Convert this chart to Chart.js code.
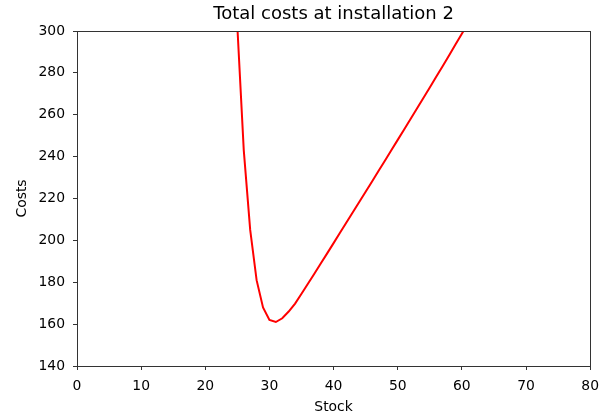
<!DOCTYPE html>
<html>
<head>
<meta charset="utf-8">
<script src="https://cdn.jsdelivr.net/npm/chart.js@4/dist/chart.umd.min.js"></script>
<style>
  html, body { margin: 0; padding: 0; background: #fff; }
  #wrap { width: 607px; height: 417px; }
</style>
</head>
<body>
<div id="wrap"><canvas id="c" width="607" height="417"></canvas></div>
<script>
// Stock levels and the total cost at each level
const stock = [24, 25, 26, 27, 28, 29, 30, 31, 32, 33, 34, 35, 36, 37, 38, 39, 40,
  41, 42, 43, 44, 45, 46, 47, 48, 49, 50, 51, 52, 53, 54, 55, 56, 57, 58, 59, 60, 61, 62];
const costs = [390, 302, 243, 205, 181, 168, 162, 161, 162.8, 166, 169.8, 174.5, 179.3,
  184.1, 189, 193.8, 198.7, 203.6, 208.5, 213.4, 218.3, 223.2, 228.1, 233.1, 238, 243,
  248, 253, 258, 263, 268, 273, 278.1, 283.2, 288.3, 293.5, 298.7, 303.9, 309.1];

const xTicks = [0, 10, 20, 30, 40, 50, 60, 70, 80];
const yTicks = [140, 160, 180, 200, 220, 240, 260, 280, 300];

const FONT = "'DejaVu Sans', sans-serif";
const AXIS = '#333';

// Box around the plotting area (all four spines)
const frame = {
  id: 'frame',
  afterDatasetsDraw(chart) {
    const a = chart.chartArea, ctx = chart.ctx;
    ctx.save();
    ctx.strokeStyle = AXIS;
    ctx.lineWidth = 1;
    ctx.strokeRect(Math.round(a.left) + 0.5, Math.round(a.top) + 0.5,
      Math.round(a.right - a.left), Math.round(a.bottom - a.top));
    ctx.restore();
  }
};

new Chart(document.getElementById('c'), {
  type: 'line',
  data: {
    datasets: [{
      data: stock.map((s, i) => ({ x: s, y: costs[i] })),
      borderColor: '#ff0000',
      borderWidth: 2,
      pointRadius: 0,
      tension: 0,
      fill: false
    }]
  },
  options: {
    responsive: false,
    animation: false,
    layout: { padding: { left: 0, right: 14, top: 0, bottom: 0 } },
    plugins: {
      legend: { display: false },
      tooltip: { enabled: false },
      title: {
        display: true,
        text: 'Total costs at installation 2',
        color: '#000',
        fullSize: false,
        font: { family: FONT, size: 18, weight: 'normal', lineHeight: 1.2 },
        padding: { top: 4, bottom: 5.4 }
      }
    },
    scales: {
      x: {
        type: 'linear',
        min: 0, max: 80,
        afterBuildTicks(s) { s.ticks = xTicks.map(v => ({ value: v })); },
        afterFit(s) { s.height = 51; },
        grid: { drawOnChartArea: false, drawTicks: true, tickLength: 4, color: AXIS },
        border: { display: true, color: AXIS },
        ticks: { color: '#000', padding: 8, maxRotation: 0, font: { family: FONT, size: 13.9 } },
        title: { display: true, text: 'Stock', color: '#000', padding: { top: 2, bottom: 1 },
          font: { family: FONT, size: 13.9 } }
      },
      y: {
        type: 'linear',
        min: 140, max: 300,
        afterBuildTicks(s) { s.ticks = yTicks.map(v => ({ value: v })); },
        afterFit(s) { s.width = 77; },
        grid: { drawOnChartArea: false, drawTicks: true, tickLength: 4, color: AXIS },
        border: { display: true, color: AXIS },
        ticks: { color: '#000', padding: 8, font: { family: FONT, size: 13.9 } },
        title: { display: true, text: 'Costs', color: '#000', padding: { top: 14, bottom: 4 },
          font: { family: FONT, size: 13.9 } }
      }
    }
  },
  plugins: [frame]
});
</script>
</body>
</html>
